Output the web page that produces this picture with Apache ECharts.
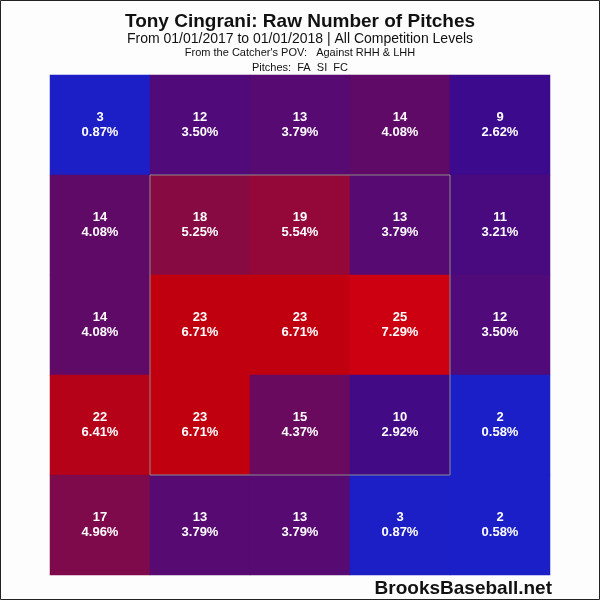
<!DOCTYPE html>
<html>
<head>
<meta charset="utf-8">
<script src="https://cdn.jsdelivr.net/npm/echarts@6/dist/echarts.min.js"></script>
<style>html,body{margin:0;padding:0;background:#fff}#c{width:600px;height:600px}</style>
</head>
<body>
<div id="c"></div>
<script>
// Data (rows top to bottom, columns left to right; catcher's POV)
var xCats = ['1', '2', '3', '4', '5'];
var yCats = ['1', '2', '3', '4', '5'];
var row1 = [3, 12, 13, 14, 9];
var row2 = [14, 18, 19, 13, 11];
var row3 = [14, 23, 23, 25, 12];
var row4 = [22, 23, 15, 10, 2];
var row5 = [17, 13, 13, 3, 2];
var pct1 = ['0.87%', '3.50%', '3.79%', '4.08%', '2.62%'];
var pct2 = ['4.08%', '5.25%', '5.54%', '3.79%', '3.21%'];
var pct3 = ['4.08%', '6.71%', '6.71%', '7.29%', '3.50%'];
var pct4 = ['6.41%', '6.71%', '4.37%', '2.92%', '0.58%'];
var pct5 = ['4.96%', '3.79%', '3.79%', '0.87%', '0.58%'];
// strike zone outline (in zone units, cell width = 1)
var zoneX = [-1.5, 1.5, 1.5, -1.5, -1.5];
var zoneY = [-1.5, -1.5, 1.5, 1.5, -1.5];

var rows = [row1, row2, row3, row4, row5];
var pcts = [pct1, pct2, pct3, pct4, pct5];
var data = [];
for (var r = 0; r < 5; r++) {
  for (var c = 0; c < 5; c++) {
    data.push({ value: [c, r, rows[r][c]], pct: pcts[r][c] });
  }
}
var zone = zoneX.map(function (x, i) { return [x, zoneY[i]]; });

// colour stops
var stops = [[2, [26, 31, 200]], [3, [28, 30, 198]], [9, [60, 10, 140]], [13, [86, 10, 114]], [18, [136, 10, 66]], [23, [192, 0, 15]], [25, [204, 0, 16]]];
function colAt(v) {
  for (var i = 0; i < stops.length - 1; i++) {
    var a = stops[i], b = stops[i + 1];
    if (v >= a[0] && v <= b[0]) {
      var t = (v - a[0]) / (b[0] - a[0]);
      var cc = a[1].map(function (q, k) { return Math.round(q + (b[1][k] - q) * t); });
      return 'rgb(' + cc.join(',') + ')';
    }
  }
  return 'rgb(' + stops[stops.length - 1][1].join(',') + ')';
}
var palette = [];
for (var v = 2; v <= 25; v++) palette.push(colAt(v));

var chart = echarts.init(document.getElementById('c'), null, { renderer: 'canvas' });
chart.setOption({
  backgroundColor: '#fdfdfd',
  animation: false,
  title: [
    { text: 'Tony Cingrani: Raw Number of Pitches', left: 'center', top: 7,
      textStyle: { fontFamily: 'Liberation Sans', fontSize: 19, fontWeight: 'bold', color: '#111' } },
    { text: 'From 01/01/2017 to 01/01/2018 | All Competition Levels', left: 'center', top: 27,
      textStyle: { fontFamily: 'Liberation Sans', fontSize: 14, fontWeight: 'normal', color: '#111' } },
    { text: "From the Catcher's POV:   Against RHH & LHH", left: 'center', top: 42,
      textStyle: { fontFamily: 'Liberation Sans', fontSize: 11, fontWeight: 'normal', color: '#111' } },
    { text: 'Pitches:  FA  SI  FC', left: 'center', top: 57,
      textStyle: { fontFamily: 'Liberation Sans', fontSize: 11, fontWeight: 'normal', color: '#111' } }
  ],
  grid: { left: 50, top: 75, width: 500, height: 500 },
  xAxis: [
    { type: 'category', data: xCats, show: false },
    { type: 'value', min: -2.5, max: 2.5, show: false }
  ],
  yAxis: [
    { type: 'category', data: yCats, inverse: true, show: false },
    { type: 'value', min: -2.5, max: 2.5, show: false }
  ],
  visualMap: { show: false, type: 'continuous', min: 2, max: 25, dimension: 2, seriesIndex: 0, inRange: { color: palette } },
  series: [
    {
      type: 'heatmap', data: data, xAxisIndex: 0, yAxisIndex: 0,
      label: {
        show: true, color: '#fff', fontFamily: 'Liberation Sans', fontWeight: 'bold', fontSize: 13, lineHeight: 15,
        formatter: function (p) { return p.value[2] + '\n' + p.data.pct; }
      },
      itemStyle: { borderWidth: 0 },
      emphasis: { disabled: true }
    },
    {
      type: 'line', data: zone, xAxisIndex: 1, yAxisIndex: 1, symbol: 'none', z: 5,
      lineStyle: { color: '#8c8c8c', width: 1 }, silent: true
    }
  ],
  graphic: [
    { type: 'text', right: 48, bottom: 2,
      style: { text: 'BrooksBaseball.net', fontFamily: 'Liberation Sans', fontSize: 19, fontWeight: 'bold', fill: '#111' } },
    { type: 'rect', shape: { x: 0.5, y: 0.5, width: 599, height: 599 }, style: { fill: 'none', stroke: '#222', lineWidth: 1 }, silent: true }
  ]
});
</script>
</body>
</html>
